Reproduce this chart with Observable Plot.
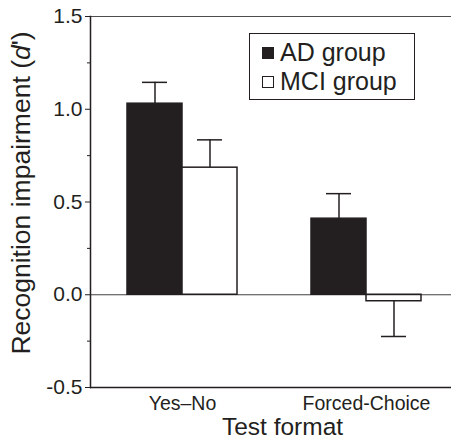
<!DOCTYPE html>
<html>
<head>
<meta charset="utf-8">
<script src="https://cdn.jsdelivr.net/npm/d3@7"></script>
<script src="https://cdn.jsdelivr.net/npm/@observablehq/plot@0.6"></script>
<style>
  html, body { margin: 0; padding: 0; background: #fff; overflow: hidden; }
  #wrap { position: relative; width: 451px; height: 439px; overflow: hidden; background: #fff; }
  #wrap svg { display: block; max-width: none !important; width: 458px !important; height: 439px !important; }
  .legend { position: absolute; left: 249px; top: 33px; width: 166px; height: 67px; border: 1.2px solid #231f20;
            font-family: "Liberation Sans", Arial, sans-serif; font-size: 25px; color: #231f20; box-sizing: border-box; }
  .legend .row { position: absolute; left: 12px; white-space: nowrap; line-height: 1; }
  .legend .sw { display: inline-block; width: 10px; height: 10px; border: 1px solid #231f20; margin-right: 6px; vertical-align: 2px; }
</style>
</head>
<body>
<div id="wrap"></div>
<script>
// ---- data ----
const formats = ["Yes–No", "Forced-Choice"];
const groups = ["AD", "MCI"];
const groupLabels = ["AD group", "MCI group"];
const adValues = [1.03, 0.41];
const mciValues = [0.685, -0.035];
const adErrors = [0.115, 0.135];
const mciErrors = [0.15, 0.19];
const yTicks = [-0.5, 0, 0.5, 1.0, 1.5];
const yMinorTicks = [-0.25, 0.25, 0.75, 1.25];
const yLabel = "Recognition impairment (d')";
const xLabel = "Test format";

const data = formats.flatMap((f, i) => [
  {format: f, group: groups[0], value: adValues[i], se: adErrors[i]},
  {format: f, group: groups[1], value: mciValues[i], se: mciErrors[i]}
]);
const errEnd = d => d.value + Math.sign(d.value) * d.se;

const ink = "#231f20";
const chart = Plot.plot({
  width: 458,
  height: 439,
  marginLeft: 90,
  marginRight: 0,
  marginTop: 16,
  marginBottom: 52,
  style: {fontFamily: "'Liberation Sans', Arial, sans-serif", color: ink, background: "white", overflow: "visible"},
  fx: {domain: formats, padding: 0, label: null},
  x: {domain: groups, paddingInner: 0, paddingOuter: 0.643, align: 0.5, axis: null},
  y: {domain: [-0.5, 1.5], axis: null},
  color: {domain: groups, range: [ink, "white"]},
  marks: [
    Plot.ruleY([1.5], {stroke: ink, strokeWidth: 1, strokeOpacity: 0.8}),
    Plot.ruleY([-0.5], {stroke: ink, strokeWidth: 1.5}),
    Plot.ruleX(data, {fx: "format", x: "group", y1: "value", y2: errEnd, stroke: ink, strokeWidth: 1.5}),
    Plot.tickY(data, {fx: "format", x: "group", y: errEnd, stroke: ink, strokeWidth: 1.5, insetLeft: 15, insetRight: 15}),
    Plot.barY(data, {fx: "format", x: "group", y: "value", fill: "group", stroke: ink, strokeWidth: 1.5}),
    Plot.ruleY([0], {stroke: ink, strokeWidth: 1.2, strokeOpacity: 0.85}),
    Plot.frame({anchor: "left", facetAnchor: "left", stroke: ink, strokeWidth: 1.5}),
    Plot.axisY({ticks: yTicks, tickFormat: d => d.toFixed(1), tickSize: 5, tickPadding: 3, fontSize: 21, label: null, stroke: ink}),
    Plot.axisY({ticks: yMinorTicks, tickFormat: () => "", tickSize: 3, label: null, stroke: ink}),
    Plot.axisY({ticks: [], label: yLabel, labelAnchor: "center", labelArrow: "none", labelOffset: 79, fontSize: 26.5}),
    Plot.axisFx({anchor: "bottom", tickSize: 0, tickPadding: 9, fontSize: 19.5, label: null}),
    Plot.axisFx({anchor: "bottom", tickSize: 0, tickFormat: () => "", label: xLabel, labelAnchor: "center", labelArrow: "none", labelOffset: 47, fontSize: 24.5})
  ]
});

const ns = "http://www.w3.org/2000/svg";
// italic "d" in the y label, and nudge labels to match the reference
for (const t of chart.querySelectorAll("text, tspan")) {
  for (const node of Array.from(t.childNodes)) {
    if (node.nodeType === 3 && node.nodeValue.includes("Recognition")) {
      const parts = [["Recognition impairment (", null], ["d", "italic"], ["')", null]];
      const frag = document.createDocumentFragment();
      for (const [s, style] of parts) {
        const sp = document.createElementNS(ns, "tspan");
        sp.textContent = s;
        if (style) sp.setAttribute("font-style", style);
        frag.appendChild(sp);
      }
      t.replaceChild(frag, node);
      const el = t.tagName.toLowerCase() === "text" ? t : t.closest("text");
      el.setAttribute("transform", (el.getAttribute("transform") || "") + " translate(9,0)");
    } else if (node.nodeType === 3 && node.nodeValue.includes(xLabel)) {
      const el = t.tagName.toLowerCase() === "text" ? t : t.closest("text");
      el.setAttribute("transform", (el.getAttribute("transform") || "") + " translate(8,0)");
    }
  }
}

const wrap = document.getElementById("wrap");
wrap.appendChild(chart);

// legend
const legend = document.createElement("div");
legend.className = "legend";
const rowTops = [6, 35];
groupLabels.forEach((lab, i) => {
  const row = document.createElement("div");
  row.className = "row";
  row.style.top = rowTops[i] + "px";
  const sw = document.createElement("span");
  sw.className = "sw";
  sw.style.background = i === 0 ? ink : "white";
  row.appendChild(sw);
  row.appendChild(document.createTextNode(lab));
  legend.appendChild(row);
});
wrap.appendChild(legend);
</script>
</body>
</html>
